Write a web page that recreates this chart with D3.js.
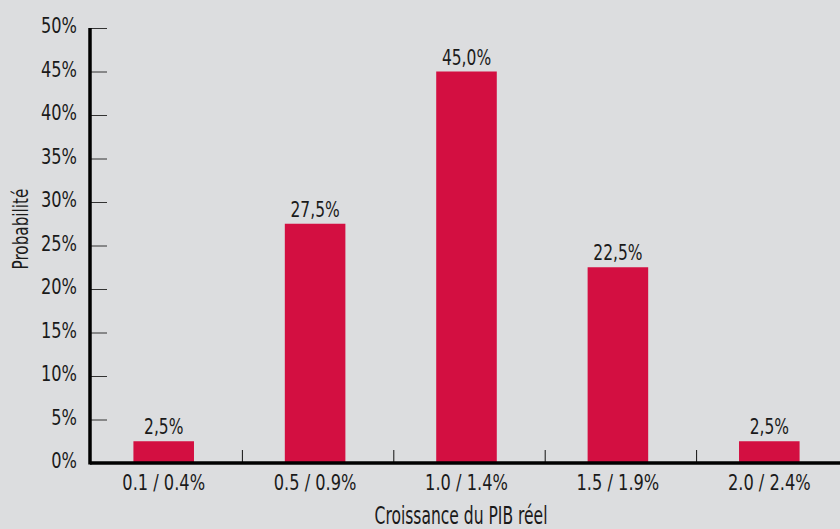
<!DOCTYPE html>
<html>
<head>
<meta charset="utf-8">
<script src="https://cdn.jsdelivr.net/npm/d3@7"></script>
<style>
  html, body { margin: 0; padding: 0; background: #dcdddf; }
  svg { display: block; }
  text { font-family: "DejaVu Sans Condensed", "Liberation Sans Narrow", "Liberation Sans", sans-serif; fill: #1a1a1a; }
</style>
</head>
<body>
<div id="graph"></div>
<script>
// data
const categories = ['0.1 / 0.4%', '0.5 / 0.9%', '1.0 / 1.4%', '1.5 / 1.9%', '2.0 / 2.4%']
const probabilities = [2.5, 27.5, 45.0, 22.5, 2.5]
const yTicks = [0, 5, 10, 15, 20, 25, 30, 35, 40, 45, 50]

const width = 840
const height = 529
const padLeft = 90
const axisBottomY = 463
const axisTopY = 28
const squeeze = 0.82 // the original font is a narrow one

const svg = d3.select('#graph')
  .append('svg')
  .attr('width', width)
  .attr('height', height)

svg.append('rect')
  .attr('width', width)
  .attr('height', height)
  .attr('fill', '#dcdddf')

const xScale = d3.scaleBand()
  .domain(categories)
  .range([88, 845])
  .paddingInner(0.6)
  .paddingOuter(0.3)

const yScale = d3.scaleLinear()
  .domain([0, 50])
  .range([axisBottomY, axisTopY])

// y axis, ticks pointing inward, labels on the left
const yAxis = d3.axisLeft(yScale)
  .tickValues(yTicks)
  .tickSize(-17)
  .tickPadding(13)
  .tickFormat(d => d + '%')

const gy = svg.append('g')
  .attr('transform', `translate(${padLeft},0)`)
  .call(yAxis)
gy.select('.domain').remove()
gy.selectAll('.tick line').attr('stroke', '#333').attr('stroke-width', 1)
gy.selectAll('.tick text')
  .attr('font-size', 22)
  .attr('font-family', null)
  .attr('x', -13 / squeeze)
  .attr('transform', `scale(${squeeze},1)`)
  .attr('dy', '0.22em')

// bars
svg.selectAll('rect.bar')
  .data(probabilities)
  .enter()
  .append('rect')
  .attr('class', 'bar')
  .attr('x', (d, i) => xScale(categories[i]))
  .attr('width', xScale.bandwidth())
  .attr('y', d => yScale(d))
  .attr('height', d => yScale(0) - yScale(d))
  .attr('fill', '#d30f41')

// value labels
svg.selectAll('text.value')
  .data(probabilities)
  .enter()
  .append('text')
  .attr('class', 'value')
  .attr('transform', (d, i) => `translate(${xScale(categories[i]) + xScale.bandwidth() / 2},${yScale(d) - 7}) scale(${squeeze},1)`)
  .attr('text-anchor', 'middle')
  .attr('font-size', 21)
  .text(d => d.toFixed(1).replace('.', ',') + '%')

// x axis labels
const xAxis = d3.axisBottom(xScale).tickSize(0).tickPadding(11)
const gx = svg.append('g')
  .attr('transform', `translate(0,${axisBottomY})`)
  .call(xAxis)
gx.select('.domain').remove()
gx.selectAll('.tick text')
  .attr('font-size', 22)
  .attr('font-family', null)
  .attr('transform', `scale(${squeeze},1)`)

// boundary ticks between categories
const sepX = d => xScale(d) + xScale.bandwidth() + xScale.step() * 0.3 + 3
svg.selectAll('line.sep')
  .data(categories.slice(0, -1))
  .enter()
  .append('line')
  .attr('class', 'sep')
  .attr('x1', sepX)
  .attr('x2', sepX)
  .attr('y1', axisBottomY - 13)
  .attr('y2', axisBottomY)
  .attr('stroke', '#111')
  .attr('stroke-width', 1)

// axis lines
svg.append('line')
  .attr('x1', padLeft).attr('x2', width)
  .attr('y1', axisBottomY).attr('y2', axisBottomY)
  .attr('stroke', '#000').attr('stroke-width', 3.5)

svg.append('line')
  .attr('x1', padLeft).attr('x2', padLeft)
  .attr('y1', axisTopY).attr('y2', axisBottomY + 1.5)
  .attr('stroke', '#000').attr('stroke-width', 3.5)

// axis titles
svg.append('text')
  .attr('transform', 'translate(461,524) scale(0.72,1)')
  .attr('text-anchor', 'middle')
  .attr('font-size', 24)
  .text('Croissance du PIB réel')

svg.append('text')
  .attr('transform', 'translate(28,229) rotate(-90) scale(0.77,1)')
  .attr('text-anchor', 'middle')
  .attr('font-size', 22)
  .text('Probabilité')
</script>
</body>
</html>
